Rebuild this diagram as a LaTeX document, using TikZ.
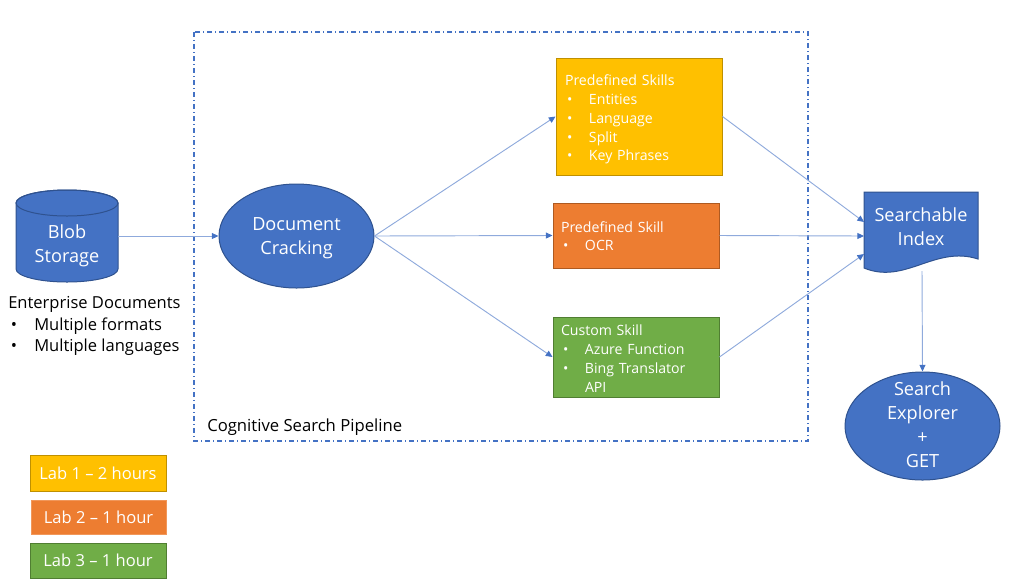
\documentclass[tikz,border=0pt]{standalone}
\usepackage{fontspec}
\setmainfont{Open Sans}
\usetikzlibrary{shapes.geometric,arrows.meta}
\definecolor{ablue}{HTML}{4472C4}
\definecolor{abluedk}{HTML}{2F528F}
\definecolor{linkc}{HTML}{8FAADC}
\definecolor{ayel}{HTML}{FFC000}
\definecolor{ayeldk}{HTML}{BF9000}
\definecolor{aora}{HTML}{ED7D31}
\definecolor{aoradk}{HTML}{AE5A21}
\definecolor{agrn}{HTML}{70AD47}
\definecolor{agrndk}{HTML}{507E32}
\newcommand\bitem[1]{\makebox[18pt][l]{\hspace{1.5pt}\textbullet}#1}
\newcommand\eitem[1]{\makebox[19.5pt][l]{\hspace{2pt}\textbullet}#1}
\begin{document}
\begin{tikzpicture}[x=0.75pt,y=0.75pt,
  conn/.style={draw=linkc, line width=0.7pt, -{Triangle[length=5pt,width=4.5pt,color=ablue]}},
  bigtxt/.style={text=white, font=\fontsize{13.6}{18}\selectfont, align=center},
  blueshape/.style={fill=ablue, draw=abluedk, line width=0.75pt},
  skillbox/.style={line width=0.75pt, minimum width=124.5pt, inner sep=0pt},
  skilltxt/.style={text=white, font=\fontsize{10.6}{14.1}\selectfont, align=left, text width=112.5pt, inner sep=0pt},
  legend/.style={text=white, font=\fontsize{12.4}{14}\selectfont, line width=0.75pt, inner sep=0pt},
  blacktxt/.style={text=black, inner sep=0pt, align=left}]
\useasboundingbox (0,0) rectangle (1024,-587);

% pipeline frame
\draw[ablue, line width=1pt, dash pattern=on 4pt off 2pt on 1pt off 2pt] (194,-32) rectangle (808,-441);
\node[blacktxt, anchor=west, font=\fontsize{12.5}{14}\selectfont] (cap) at (207,-427) {Cognitive Search Pipeline};

% blob storage cylinder
\path[blueshape] (16,-203) -- (16,-269) arc[start angle=180,end angle=360,x radius=51,y radius=13] -- (118,-203) arc[start angle=0,end angle=180,x radius=51,y radius=13] -- cycle;
\draw[abluedk, line width=0.75pt] (67,-203) ellipse[x radius=51, y radius=13];
\node[bigtxt, minimum width=76.5pt, inner sep=0pt] (blob) at (67,-246) {Blob\\Storage};

\node[blacktxt, anchor=west, font=\fontsize{12.4}{16.1}\selectfont] (ent) at (8,-326) {Enterprise Documents\\\eitem{Multiple formats}\\\eitem{Multiple languages}};

% document cracking
\node[ellipse, blueshape, minimum width=116.25pt, minimum height=78pt, inner sep=0pt] (dc) at (296.5,-236) {};
\node[bigtxt, inner sep=0pt] (dct) at ([yshift=-1.5pt]dc.center) {Document\\Cracking};

% skills
\node[skillbox, fill=ayel, draw=ayeldk, minimum height=87.75pt] (sk1) at (639,-116.5) {};
\node[skilltxt] (sk1t) at ([xshift=0.75pt,yshift=-2.25pt]sk1.center) {Predefined Skills\\\bitem{Entities}\\\bitem{Language}\\\bitem{Split}\\\bitem{Key Phrases}};
\node[skillbox, fill=aora, draw=aoradk, minimum height=48.75pt] (sk2) at (636,-235.5) {};
\node[skilltxt] (sk2t) at ([yshift=-0.5pt]sk2.center) {Predefined Skill\\\bitem{OCR}};
\node[skillbox, fill=agrn, draw=agrndk, minimum height=60pt] (sk3) at (636,-357) {};
\node[skilltxt] (sk3t) at ([yshift=-1.2pt]sk3.center) {Custom Skill\\\bitem{Azure Function}\\\bitem{Bing Translator}\\\hspace*{18pt}API};

% searchable index
\path[blueshape] (864,-192) -- (978,-192) -- (978,-259) .. controls (935,-245) and (905,-285) .. (864,-268) -- cycle;
\node[bigtxt, inner sep=0pt] (idx) at (921,-226.5) {Searchable\\Index};
\coordinate (idxa) at (864,-222);
\coordinate (idxb) at (864,-236);
\coordinate (idxc) at (864,-254);
\coordinate (idxd) at (922,-271);

% search explorer
\node[ellipse, blueshape, minimum width=116.25pt, minimum height=81pt, inner sep=0pt] (se) at (922.5,-426) {};
\node[bigtxt, inner sep=0pt] (set) at ([yshift=1.2pt]se.center) {Search\\Explorer\\+\\GET};

% connectors
\draw[conn] (blob.east |- dc.west) -- (dc.west);
\draw[conn] (dc.east) -- (sk1.west);
\draw[conn] (dc.east) -- (sk2.west);
\draw[conn] (dc.east) -- (sk3.west);
\draw[conn] (sk1.east) -- (idxa);
\draw[conn] (sk2.east) -- (idxb);
\draw[conn] (sk3.east) -- (idxc);
\draw[conn] (idxd) -- (se.north);

% legend
\node[legend, fill=ayel, draw=ayeldk, minimum width=102pt, minimum height=27pt] (lg1) at (98,-473) {Lab 1 – 2 hours};
\node[legend, fill=aora, draw=aora!80!white, minimum width=101.25pt, minimum height=25.5pt] (lg2) at (98.5,-517) {Lab 2 – 1 hour};
\node[legend, fill=agrn, draw=agrndk, minimum width=102pt, minimum height=26.25pt] (lg3) at (98,-560.5) {Lab 3 – 1 hour};
\end{tikzpicture}
\end{document}
